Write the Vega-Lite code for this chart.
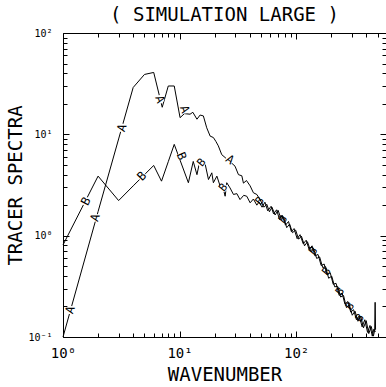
{
  "$schema": "https://vega.github.io/schema/vega-lite/v6.json",
  "width": 323,
  "height": 304,
  "autosize": {"type": "none"},
  "padding": {"left": 63, "top": 33, "right": 0, "bottom": 50},
  "background": "white",
  "config": {
    "font": "DejaVu Sans Mono",
    "view": {"stroke": "black", "strokeWidth": 1},
    "axis": {"domain": false, "grid": false, "tickColor": "black", "labelColor": "black", "titleColor": "black", "titleFontWeight": "normal", "labelFlush": false, "labelOverlap": false, "tickWidth": 1}
  },
  "title": {"text": "( SIMULATION LARGE )", "fontSize": 19, "fontWeight": "normal", "color": "black", "baseline": "alphabetic", "offset": -12},
  "datasets": {
    "spectra": [
      {"series": "A", "k": 1, "v": 0.1}, {"series": "A", "k": 2, "v": 1.73}, {"series": "A", "k": 3, "v": 9.0}, {"series": "A", "k": 4, "v": 29}, {"series": "A", "k": 5, "v": 39}, {"series": "A", "k": 6, "v": 40.8}, {"series": "A", "k": 7.1, "v": 18.5}, {"series": "A", "k": 8, "v": 30}, {"series": "A", "k": 9, "v": 30}, {"series": "A", "k": 10.1, "v": 14.6}, {"series": "A", "k": 11, "v": 16}, {"series": "A", "k": 12.3, "v": 15.8}, {"series": "A", "k": 13, "v": 16.5}, {"series": "A", "k": 14.1, "v": 14.1}, {"series": "A", "k": 15, "v": 15.5}, {"series": "A", "k": 16, "v": 15.2}, {"series": "A", "k": 17.1, "v": 11.6}, {"series": "A", "k": 18.3, "v": 9.6}, {"series": "A", "k": 19.5, "v": 9.3}, {"series": "A", "k": 20.5, "v": 8.5}, {"series": "A", "k": 21.5, "v": 7.7}, {"series": "A", "k": 23, "v": 6.3}, {"series": "A", "k": 24.6, "v": 5.9}, {"series": "A", "k": 27, "v": 5.4}, {"series": "A", "k": 29.9, "v": 4.85}, {"series": "A", "k": 32, "v": 4.0}, {"series": "A", "k": 34.2, "v": 3.9}, {"series": "A", "k": 35.3, "v": 3.3}, {"series": "A", "k": 37.5, "v": 3.5}, {"series": "A", "k": 40.3, "v": 3.1}, {"series": "A", "k": 43, "v": 2.65}, {"series": "A", "k": 46, "v": 2.55}, {"series": "A", "k": 49, "v": 2.27},
      {"series": "A", "k": 53, "v": 1.91}, {"series": "A", "k": 56, "v": 2.04}, {"series": "A", "k": 59, "v": 1.72}, {"series": "A", "k": 62, "v": 1.91}, {"series": "A", "k": 66, "v": 1.6}, {"series": "A", "k": 70, "v": 1.78}, {"series": "A", "k": 74, "v": 1.48}, {"series": "A", "k": 78, "v": 1.53}, {"series": "A", "k": 83, "v": 1.2}, {"series": "A", "k": 88, "v": 1.3}, {"series": "A", "k": 93, "v": 1.07}, {"series": "A", "k": 99, "v": 1.135}, {"series": "A", "k": 105, "v": 0.923}, {"series": "A", "k": 111, "v": 0.989}, {"series": "A", "k": 118, "v": 0.794}, {"series": "A", "k": 125, "v": 0.871}, {"series": "A", "k": 133, "v": 0.708}, {"series": "A", "k": 141, "v": 0.75}, {"series": "A", "k": 150, "v": 0.596}, {"series": "A", "k": 159, "v": 0.617}, {"series": "A", "k": 169, "v": 0.484}, {"series": "A", "k": 179, "v": 0.495}, {"series": "A", "k": 190, "v": 0.38}, {"series": "A", "k": 202, "v": 0.398}, {"series": "A", "k": 214, "v": 0.313}, {"series": "A", "k": 227, "v": 0.316}, {"series": "A", "k": 241, "v": 0.248}, {"series": "A", "k": 255, "v": 0.257}, {"series": "A", "k": 270, "v": 0.195}, {"series": "A", "k": 286, "v": 0.209}, {"series": "A", "k": 303, "v": 0.164}, {"series": "A", "k": 320, "v": 0.18}, {"series": "A", "k": 339, "v": 0.143}, {"series": "A", "k": 358, "v": 0.16}, {"series": "A", "k": 378, "v": 0.123}, {"series": "A", "k": 399, "v": 0.145}, {"series": "A", "k": 420, "v": 0.108}, {"series": "A", "k": 441, "v": 0.127}, {"series": "A", "k": 460, "v": 0.102}, {"series": "A", "k": 472, "v": 0.117}, {"series": "A", "k": 476, "v": 0.22}, {"series": "A", "k": 480, "v": 0.118},
      {"series": "B", "k": 1, "v": 0.81}, {"series": "B", "k": 2, "v": 3.87}, {"series": "B", "k": 3, "v": 2.22}, {"series": "B", "k": 4, "v": 3.1}, {"series": "B", "k": 5, "v": 4.0}, {"series": "B", "k": 6, "v": 4.93}, {"series": "B", "k": 7, "v": 3.45}, {"series": "B", "k": 8, "v": 5.37}, {"series": "B", "k": 9, "v": 7.96}, {"series": "B", "k": 11.9, "v": 3.33}, {"series": "B", "k": 13.1, "v": 5.4}, {"series": "B", "k": 14.1, "v": 4.0}, {"series": "B", "k": 15, "v": 5.65}, {"series": "B", "k": 16.6, "v": 5.05}, {"series": "B", "k": 17.7, "v": 3.58}, {"series": "B", "k": 18.9, "v": 4.17}, {"series": "B", "k": 19.5, "v": 3.33}, {"series": "B", "k": 20.9, "v": 3.87}, {"series": "B", "k": 22.3, "v": 3.08}, {"series": "B", "k": 23.8, "v": 2.85}, {"series": "B", "k": 24.6, "v": 2.45}, {"series": "B", "k": 25.4, "v": 3.33}, {"series": "B", "k": 27.1, "v": 2.96}, {"series": "B", "k": 29, "v": 2.55}, {"series": "B", "k": 31, "v": 2.6}, {"series": "B", "k": 33, "v": 2.27}, {"series": "B", "k": 35.5, "v": 2.5}, {"series": "B", "k": 37.7, "v": 2.45}, {"series": "B", "k": 40.3, "v": 2.11}, {"series": "B", "k": 43, "v": 2.3}, {"series": "B", "k": 46, "v": 2.0}, {"series": "B", "k": 48, "v": 2.15},
      {"series": "B", "k": 51, "v": 1.91}, {"series": "B", "k": 54, "v": 2.14}, {"series": "B", "k": 57, "v": 1.76}, {"series": "B", "k": 61, "v": 1.95}, {"series": "B", "k": 64, "v": 1.64}, {"series": "B", "k": 68, "v": 1.8}, {"series": "B", "k": 72, "v": 1.445}, {"series": "B", "k": 76, "v": 1.585}, {"series": "B", "k": 81, "v": 1.27}, {"series": "B", "k": 86, "v": 1.38}, {"series": "B", "k": 91, "v": 1.096}, {"series": "B", "k": 96, "v": 1.175}, {"series": "B", "k": 102, "v": 0.933}, {"series": "B", "k": 108, "v": 1.023}, {"series": "B", "k": 115, "v": 0.832}, {"series": "B", "k": 122, "v": 0.902}, {"series": "B", "k": 129, "v": 0.733}, {"series": "B", "k": 137, "v": 0.794}, {"series": "B", "k": 145, "v": 0.631}, {"series": "B", "k": 154, "v": 0.653}, {"series": "B", "k": 164, "v": 0.507}, {"series": "B", "k": 174, "v": 0.525}, {"series": "B", "k": 184, "v": 0.412}, {"series": "B", "k": 196, "v": 0.431}, {"series": "B", "k": 208, "v": 0.331}, {"series": "B", "k": 220, "v": 0.339}, {"series": "B", "k": 234, "v": 0.257}, {"series": "B", "k": 248, "v": 0.272}, {"series": "B", "k": 262, "v": 0.211}, {"series": "B", "k": 278, "v": 0.224}, {"series": "B", "k": 294, "v": 0.176}, {"series": "B", "k": 311, "v": 0.186}, {"series": "B", "k": 329, "v": 0.148}, {"series": "B", "k": 348, "v": 0.162}, {"series": "B", "k": 368, "v": 0.126}, {"series": "B", "k": 388, "v": 0.148}, {"series": "B", "k": 410, "v": 0.111}, {"series": "B", "k": 430, "v": 0.13}, {"series": "B", "k": 450, "v": 0.102}, {"series": "B", "k": 465, "v": 0.12}, {"series": "B", "k": 478, "v": 0.112}
    ],
    "labels": [
      {"letter": "A", "k": 1.15, "v": 0.185}, {"letter": "A", "k": 1.88, "v": 1.51}, {"letter": "A", "k": 3.19, "v": 11.6}, {"letter": "A", "k": 6.8, "v": 22.2}, {"letter": "A", "k": 11.1, "v": 17.7}, {"letter": "A", "k": 27.1, "v": 5.65},
      {"letter": "B", "k": 1.57, "v": 2.19}, {"letter": "B", "k": 4.74, "v": 3.87}, {"letter": "B", "k": 10.4, "v": 6.1}, {"letter": "B", "k": 15.5, "v": 5.25}, {"letter": "B", "k": 23.8, "v": 2.97}, {"letter": "B", "k": 49, "v": 2.19}, {"letter": "B", "k": 77.8, "v": 1.44}, {"letter": "B", "k": 141, "v": 0.7}, {"letter": "B", "k": 183, "v": 0.44}, {"letter": "B", "k": 239, "v": 0.28}, {"letter": "B", "k": 291, "v": 0.2}, {"letter": "B", "k": 354, "v": 0.153}
    ]
  },
  "layer": [
    {
      "data": {"name": "spectra"},
      "mark": {"type": "line", "color": "black", "strokeWidth": 1},
      "encoding": {
        "x": {"field": "k", "type": "quantitative", "scale": {"type": "log", "domain": [1, 590], "nice": false},
          "axis": {"orient": "bottom", "title": "WAVENUMBER", "titleFontSize": 19, "titlePadding": 3,
            "values": [1,2,3,4,5,6,7,8,9,10,20,30,40,50,60,70,80,90,100,200,300,400,500],
            "labelExpr": "datum.value == 1 ? '10⁰' : datum.value == 10 ? '10¹' : datum.value == 100 ? '10²' : ''",
            "labelFontSize": 14, "labelPadding": 15,
            "tickSize": {"condition": {"test": "datum.value == 1 || datum.value == 10 || datum.value == 100", "value": -6}, "value": -4}}},
        "y": {"field": "v", "type": "quantitative", "scale": {"type": "log", "domain": [0.1, 100], "nice": false},
          "axis": {"orient": "left", "title": "TRACER SPECTRA", "titleFontSize": 19, "titlePadding": 2,
            "values": [0.1,0.2,0.3,0.4,0.5,0.6,0.7,0.8,0.9,1,2,3,4,5,6,7,8,9,10,20,30,40,50,60,70,80,90,100],
            "labelExpr": "datum.value == 0.1 ? '10⁻¹' : datum.value == 1 ? '10⁰' : datum.value == 10 ? '10¹' : datum.value == 100 ? '10²' : ''",
            "labelFontSize": 10, "labelPadding": 17,
            "tickSize": {"condition": {"test": "datum.value == 0.1 || datum.value == 1 || datum.value == 10 || datum.value == 100", "value": -6}, "value": -4}}},
        "detail": {"field": "series", "type": "nominal"}
      }
    },
    {
      "data": {"name": "labels"},
      "transform": [{"filter": "datum.k < 30"}],
      "mark": {"type": "point", "filled": true, "color": "white", "opacity": 1, "size": 70, "strokeWidth": 0},
      "encoding": {
        "x": {"field": "k", "type": "quantitative", "scale": {"type": "log", "domain": [1, 590], "nice": false},
          "axis": {"orient": "top", "title": null, "labels": false,
            "values": [1,2,3,4,5,6,7,8,9,10,20,30,40,50,60,70,80,90,100,200,300,400,500],
            "tickSize": {"condition": {"test": "datum.value == 1 || datum.value == 10 || datum.value == 100", "value": -6}, "value": -4}}},
        "y": {"field": "v", "type": "quantitative", "scale": {"type": "log", "domain": [0.1, 100], "nice": false},
          "axis": {"orient": "right", "title": null, "labels": false,
            "values": [0.1,0.2,0.3,0.4,0.5,0.6,0.7,0.8,0.9,1,2,3,4,5,6,7,8,9,10,20,30,40,50,60,70,80,90,100],
            "tickSize": {"condition": {"test": "datum.value == 0.1 || datum.value == 1 || datum.value == 10 || datum.value == 100", "value": -6}, "value": -4}}}
      }
    },
    {
      "data": {"name": "labels"},
      "transform": [{"filter": "datum.letter == 'A' && datum.k < 4"}],
      "mark": {"type": "text", "fontSize": 12, "color": "black", "angle": -72, "align": "center", "baseline": "middle"},
      "encoding": {"x": {"field": "k", "type": "quantitative", "scale": {"type": "log", "domain": [1, 590], "nice": false}, "axis": null}, "y": {"field": "v", "type": "quantitative", "scale": {"type": "log", "domain": [0.1, 100], "nice": false}, "axis": null}, "text": {"field": "letter"}}
    },
    {
      "data": {"name": "labels"},
      "transform": [{"filter": "datum.letter == 'A' && datum.k >= 4 && datum.k < 20"}],
      "mark": {"type": "text", "fontSize": 12, "color": "black", "angle": 70, "align": "center", "baseline": "middle"},
      "encoding": {"x": {"field": "k", "type": "quantitative", "scale": {"type": "log", "domain": [1, 590], "nice": false}, "axis": null}, "y": {"field": "v", "type": "quantitative", "scale": {"type": "log", "domain": [0.1, 100], "nice": false}, "axis": null}, "text": {"field": "letter"}}
    },
    {
      "data": {"name": "labels"},
      "transform": [{"filter": "datum.letter == 'A' && datum.k >= 20"}],
      "mark": {"type": "text", "fontSize": 12, "color": "black", "angle": 35, "align": "center", "baseline": "middle"},
      "encoding": {"x": {"field": "k", "type": "quantitative", "scale": {"type": "log", "domain": [1, 590], "nice": false}, "axis": null}, "y": {"field": "v", "type": "quantitative", "scale": {"type": "log", "domain": [0.1, 100], "nice": false}, "axis": null}, "text": {"field": "letter"}}
    },
    {
      "data": {"name": "labels"},
      "transform": [{"filter": "datum.letter == 'B' && datum.k < 2"}],
      "mark": {"type": "text", "fontSize": 12, "color": "black", "angle": -63, "align": "center", "baseline": "middle"},
      "encoding": {"x": {"field": "k", "type": "quantitative", "scale": {"type": "log", "domain": [1, 590], "nice": false}, "axis": null}, "y": {"field": "v", "type": "quantitative", "scale": {"type": "log", "domain": [0.1, 100], "nice": false}, "axis": null}, "text": {"field": "letter"}}
    },
    {
      "data": {"name": "labels"},
      "transform": [{"filter": "datum.letter == 'B' && datum.k >= 2 && datum.k < 8"}],
      "mark": {"type": "text", "fontSize": 12, "color": "black", "angle": -45, "align": "center", "baseline": "middle"},
      "encoding": {"x": {"field": "k", "type": "quantitative", "scale": {"type": "log", "domain": [1, 590], "nice": false}, "axis": null}, "y": {"field": "v", "type": "quantitative", "scale": {"type": "log", "domain": [0.1, 100], "nice": false}, "axis": null}, "text": {"field": "letter"}}
    },
    {
      "data": {"name": "labels"},
      "transform": [{"filter": "datum.letter == 'B' && datum.k >= 8 && datum.k < 12"}],
      "mark": {"type": "text", "fontSize": 12, "color": "black", "angle": 68, "align": "center", "baseline": "middle"},
      "encoding": {"x": {"field": "k", "type": "quantitative", "scale": {"type": "log", "domain": [1, 590], "nice": false}, "axis": null}, "y": {"field": "v", "type": "quantitative", "scale": {"type": "log", "domain": [0.1, 100], "nice": false}, "axis": null}, "text": {"field": "letter"}}
    },
    {
      "data": {"name": "labels"},
      "transform": [{"filter": "datum.letter == 'B' && datum.k >= 12"}],
      "mark": {"type": "text", "fontSize": 11, "color": "black", "angle": -50, "align": "center", "baseline": "middle"},
      "encoding": {"x": {"field": "k", "type": "quantitative", "scale": {"type": "log", "domain": [1, 590], "nice": false}, "axis": null}, "y": {"field": "v", "type": "quantitative", "scale": {"type": "log", "domain": [0.1, 100], "nice": false}, "axis": null}, "text": {"field": "letter"}}
    }
  ],
  "resolve": {"axis": {"x": "independent", "y": "independent"}}
}
